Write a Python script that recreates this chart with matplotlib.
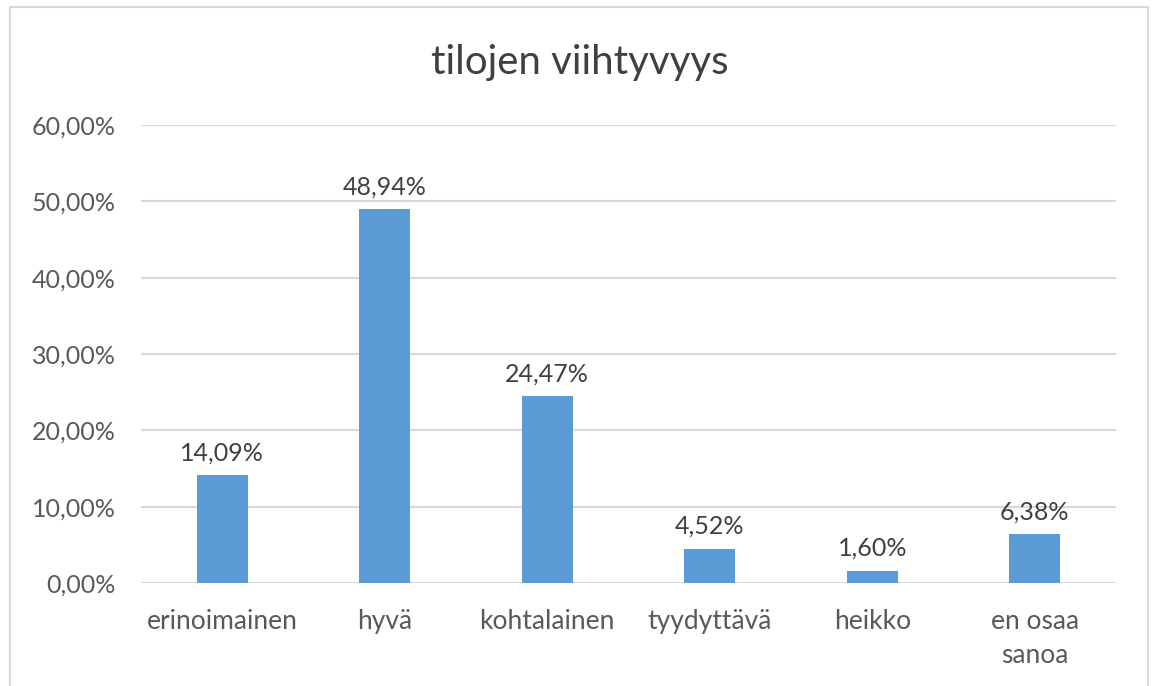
import matplotlib.pyplot as plt
from matplotlib.lines import Line2D
import numpy as np

categories = ["erinoimainen", "hyvä", "kohtalainen", "tyydyttävä", "heikko", "en osaa\nsanoa"]
values = [14.09, 48.94, 24.47, 4.52, 1.60, 6.38]
yticks = [0, 10, 20, 30, 40, 50, 60]

plt.rcParams['font.family'] = ['Lato', 'DejaVu Sans']

fig = plt.figure(figsize=(11.52, 6.86), dpi=100)
ax = fig.add_axes([0.1224, 0.1501, 0.8464, 0.6677])

# chart frame
W, H = 1152, 686
for xs, ys in [([10, 1148], [679, 679]), ([10, 10], [0, 679]), ([1148, 1148], [0, 679])]:
    fig.add_artist(Line2D([x / W for x in xs], [y / H for y in ys], color="#D9D9D9", lw=1.5,
                          transform=fig.transFigure))

x = np.arange(len(categories))
bars = ax.bar(x, values, width=0.315, color="#5B9BD5", zorder=3)

for xi, v in zip(x, values):
    ax.annotate(f"{v:.2f}%".replace(".", ","), (xi, v), xytext=(0, 8), textcoords="offset points",
                ha="center", va="bottom", fontsize=18, color="#404040")

ax.set_ylim(0, 60)
ax.set_xlim(-0.5, len(categories) - 0.5)
ax.set_yticks(yticks)
ax.set_yticklabels([f"{t:.2f}%".replace(".", ",") for t in yticks], fontsize=18)
ax.set_xticks(x)
ax.set_xticklabels(categories, linespacing=1.45, fontsize=19)
ax.tick_params(axis="both", length=0, labelcolor="#595959")
ax.tick_params(axis="y", pad=18)
ax.tick_params(axis="x", pad=19)
ax.grid(axis="y", color="#D9D9D9", lw=1.5, zorder=0)
for s in ax.spines.values():
    s.set_visible(False)

fig.text(0.5035, 0.909, "tilojen viihtyvyys", ha="center", va="center", fontsize=29, color="#404040")

fig.savefig("out.png", dpi=100)
